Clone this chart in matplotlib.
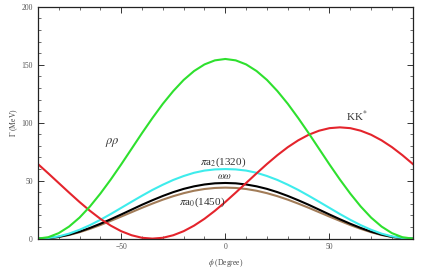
import numpy as np
import matplotlib.pyplot as plt
from matplotlib.ticker import MultipleLocator

plt.rcParams['font.family'] = ['Liberation Serif', 'DejaVu Serif']
plt.rcParams['mathtext.fontset'] = 'stix'

# mixing angle phi (degrees)
phi = list(range(-90, 95, 5))

# decay widths (MeV)
rho_rho = [0, 1.2, 4.7, 10.4, 18.1, 27.7, 38.8, 51.0, 64.0, 77.5, 91.0, 104.0, 116.3,
           127.3, 136.9, 144.6, 150.3, 153.8, 155.0, 153.8, 150.3, 144.6, 136.9,
           127.3, 116.3, 104.0, 91.0, 77.5, 64.0, 51.0, 38.8, 27.7, 18.1, 10.4,
           4.7, 1.2, 0]
kk_star = [64.4, 56.3, 48.0, 39.7, 31.6, 24.0, 17.1, 11.2, 6.4, 2.9, 0.7, 0, 0.7,
           2.9, 6.4, 11.2, 17.1, 24.0, 31.6, 39.7, 48.0, 56.3, 64.4, 72.0, 78.9,
           84.8, 89.6, 93.1, 95.3, 96.0, 95.3, 93.1, 89.6, 84.8, 78.9, 72.0, 64.4]
pi_a2 = [0, 0.5, 1.9, 4.3, 7.6, 11.6, 16.2, 21.2, 26.5, 31.8, 37.0, 42.0, 46.5,
         50.6, 54.0, 56.8, 58.7, 59.7, 60.0, 59.7, 58.7, 56.8, 54.0, 50.6, 46.5,
         42.0, 37.0, 31.8, 26.5, 21.2, 16.2, 11.6, 7.6, 4.3, 1.9, 0.5, 0]
omega_omega = [0, 0.4, 1.5, 3.4, 6.0, 9.2, 12.8, 16.7, 20.8, 25.0, 29.2, 33.1, 36.8,
               40.1, 42.9, 45.1, 46.7, 47.7, 48.0, 47.7, 46.7, 45.1, 42.9, 40.1,
               36.8, 33.1, 29.2, 25.0, 20.8, 16.7, 12.8, 9.2, 6.0, 3.4, 1.5, 0.4, 0]
pi_a0 = [0, 0.3, 1.4, 3.1, 5.5, 8.4, 11.7, 15.3, 19.0, 22.8, 26.6, 30.2, 33.6,
         36.6, 39.2, 41.3, 42.8, 43.7, 44.0, 43.7, 42.8, 41.3, 39.2, 36.6, 33.6,
         30.2, 26.6, 22.8, 19.0, 15.3, 11.7, 8.4, 5.5, 3.1, 1.4, 0.3, 0]

fig = plt.figure(figsize=(4.3, 2.73), dpi=100)
ax = fig.add_axes([0.088, 0.126, 0.872, 0.849])

lw = 1.5
ax.plot(phi, pi_a0, color='#a27c58', lw=lw)
ax.plot(phi, omega_omega, color='black', lw=lw)
ax.plot(phi, pi_a2, color='#3eecec', lw=lw)
ax.plot(phi, kk_star, color='#e4242c', lw=lw)
ax.plot(phi, rho_rho, color='#2ee02e', lw=lw)

ax.set_xlim(-90, 90)
ax.set_ylim(0, 200)
ax.xaxis.set_major_locator(MultipleLocator(50))
ax.xaxis.set_minor_locator(MultipleLocator(10))
ax.yaxis.set_major_locator(MultipleLocator(50))
ax.yaxis.set_minor_locator(MultipleLocator(10))
ax.tick_params(which='both', direction='in', top=True, right=True,
               labelsize=5.5, labelcolor='#555555', color='#333333')
ax.tick_params(which='major', length=4, width=0.7)
ax.tick_params(which='minor', length=2, width=0.5)
for s in ax.spines.values():
    s.set_linewidth(0.9)
    s.set_color('#222222')

ax.set_xlabel(r'$\phi$ (Degree)', fontsize=5.5, color='#444444', labelpad=4)
ax.set_ylabel(r'$\Gamma$ (MeV)', fontsize=5.5, color='#444444', labelpad=1)

tc = '#333333'
ax.text(-54, 83, r'$\rho\rho$', fontsize=9, color=tc, ha='center', va='center')
ax.text(-12, 66, r'$\pi$a$_2$(1320)', fontsize=8, color=tc, ha='left', va='center')
ax.text(-4, 53.5, r'$\omega\omega$', fontsize=7, color=tc, ha='left', va='center')
ax.text(-22, 31, r'$\pi$a$_0$(1450)', fontsize=8, color=tc, ha='left', va='center')
ax.text(58, 99, r'KK$^{*}$', fontsize=8, color=tc, ha='left', va='bottom')

fig.savefig('out.png', dpi=100)
